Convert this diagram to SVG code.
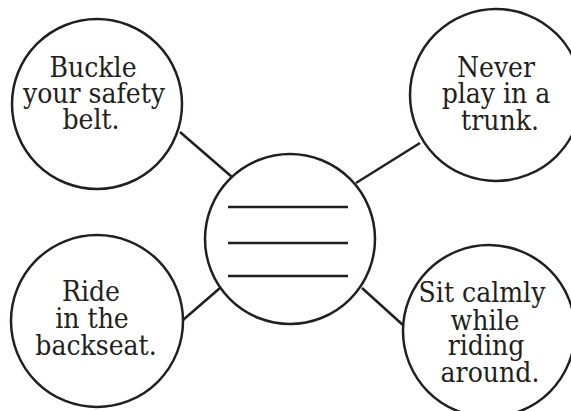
<svg xmlns="http://www.w3.org/2000/svg" width="571" height="411" viewBox="0 0 571 411">
<style>
.c{fill:#fff;stroke:#231f20;stroke-width:2.5}
.l{stroke:#231f20;stroke-width:2.5;fill:none}
.b{stroke:#231f20;stroke-width:2.5}
text{font-family:"DejaVu Serif Condensed","DejaVu Serif","Liberation Serif",serif;font-stretch:condensed;font-size:28px;fill:#231f20;text-anchor:middle}
</style>
<rect width="571" height="411" fill="#fff"/>
<g id="connectors">
<line class="l" x1="180" y1="132" x2="232" y2="177"/>
<line class="l" x1="356" y1="183" x2="420" y2="143"/>
<line class="l" x1="183" y1="320" x2="220" y2="288"/>
<line class="l" x1="362" y1="288" x2="404" y2="326"/>
</g>
<g id="center">
<circle class="c" cx="290" cy="239" r="85"/>
<line class="b" x1="228" y1="207" x2="348" y2="207"/>
<line class="b" x1="228" y1="243" x2="348" y2="243"/>
<line class="b" x1="228" y1="276" x2="348" y2="276"/>
</g>
<g id="buckle">
<circle class="c" cx="97" cy="104" r="85"/>
<text x="93" y="77">Buckle</text>
<text x="94" y="103">your safety</text>
<text x="91" y="129">belt.</text>
</g>
<g id="never">
<circle class="c" cx="496" cy="95" r="86"/>
<text x="496" y="77">Never</text>
<text x="496" y="103">play in a</text>
<text x="500" y="130">trunk.</text>
</g>
<g id="ride">
<circle class="c" cx="97" cy="321" r="86"/>
<text x="91" y="301">Ride</text>
<text x="92" y="328">in the</text>
<text x="96" y="355">backseat.</text>
</g>
<g id="sit">
<circle class="c" cx="489" cy="331" r="86"/>
<text x="482" y="302">Sit calmly</text>
<text x="485" y="330">while</text>
<text x="486" y="355">riding</text>
<text x="490" y="382">around.</text>
</g>
</svg>
